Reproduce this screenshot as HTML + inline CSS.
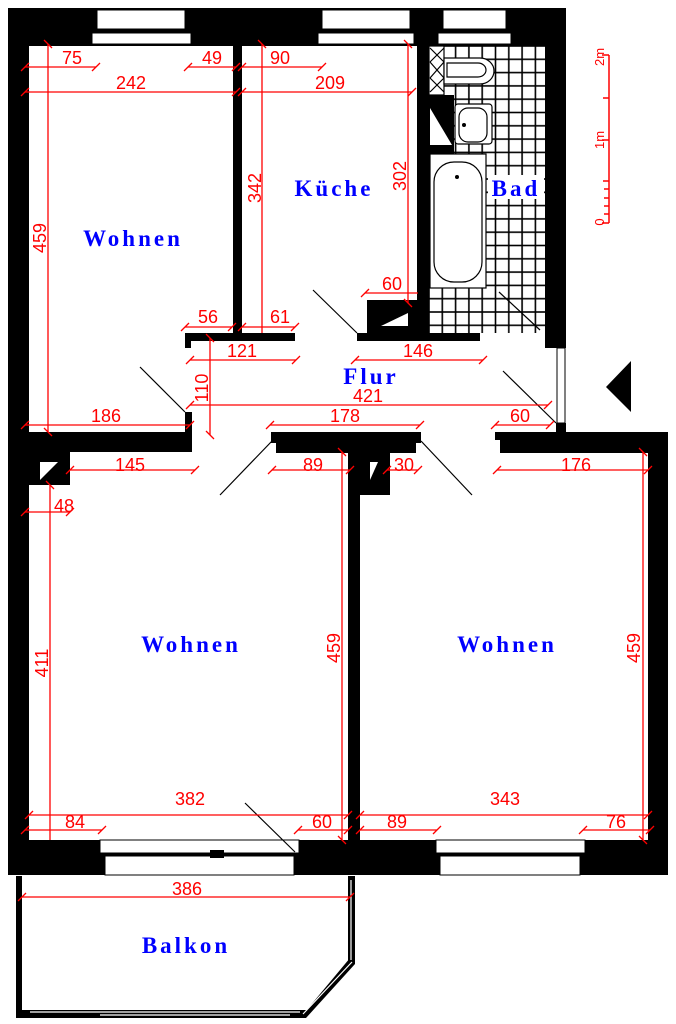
<!DOCTYPE html>
<html><head><meta charset="utf-8"><style>
html,body{margin:0;padding:0;background:#fff;}
svg{display:block;}
.d{stroke:#f00;stroke-width:1.3;fill:none;}
.t{fill:#f00;font-family:"Liberation Sans",sans-serif;font-size:18px;text-anchor:middle;}
.b{fill:#00f;font-family:"Liberation Serif",serif;font-size:23px;text-anchor:middle;letter-spacing:3px;font-weight:bold;}
.k{stroke:#000;stroke-width:1.2;fill:none;}
</style></head><body>
<svg width="676" height="1024" viewBox="0 0 676 1024" xmlns="http://www.w3.org/2000/svg">
<defs>
<pattern id="tile" x="429" y="46" width="13.3" height="13.3" patternUnits="userSpaceOnUse">
<rect width="13.3" height="13.3" fill="#fff" stroke="#000" stroke-width="1.6"/>
</pattern>
</defs>
<rect width="676" height="1024" fill="#fff"/>
<rect x="429" y="46" width="118" height="287" fill="url(#tile)"/>
<g fill="#000">
<rect x="8" y="8" width="558" height="38"/>
<rect x="8" y="8" width="21" height="867"/>
<rect x="545" y="8" width="21" height="340"/>
<rect x="233" y="44" width="9" height="292"/>
<rect x="417" y="44" width="12" height="290"/>
<rect x="185" y="333" width="110" height="8"/>
<rect x="185" y="333" width="6" height="15"/>
<rect x="357" y="333" width="123" height="8"/>
<rect x="367" y="300" width="51" height="34"/>
<rect x="429" y="95" width="25" height="60"/>
<rect x="556" y="423" width="10" height="12"/>
<rect x="185" y="412" width="7" height="30"/>
<rect x="8" y="432" width="184" height="8"/>
<rect x="8" y="440" width="184" height="12"/>
<rect x="271" y="432" width="150" height="11"/>
<rect x="276" y="443" width="140" height="10"/>
<rect x="495" y="432" width="173" height="8"/>
<rect x="500" y="440" width="168" height="13"/>
<rect x="29" y="452" width="41" height="33"/>
<rect x="348" y="452" width="12" height="390"/>
<rect x="360" y="452" width="30" height="43"/>
<rect x="648" y="432" width="20" height="443"/>
<rect x="8" y="840" width="660" height="35"/>
</g>
<polygon points="40,462 58,462 40,480" fill="#fff"/>
<polygon points="370,462 378,462 370,480" fill="#fff"/>
<polygon points="381,326 408,313 408,326" fill="#fff"/>
<polygon points="430,108 430,145 452,145" fill="#fff"/>
<g fill="#fff" stroke="#000" stroke-width="1">
<rect x="97" y="10" width="88" height="19"/>
<rect x="92" y="33" width="99" height="11"/>
<rect x="322" y="10" width="88" height="19"/>
<rect x="318" y="33" width="96" height="11"/>
<rect x="443" y="10" width="63" height="19"/>
<rect x="438" y="33" width="73" height="11"/>
<rect x="100" y="840" width="199" height="13"/>
<rect x="105" y="856" width="189" height="19"/>
<rect x="436" y="840" width="149" height="13"/>
<rect x="440" y="856" width="140" height="19"/>
<rect x="557" y="348" width="8" height="75"/>
</g>
<rect x="210" y="850" width="14" height="8" fill="#000"/>
<g fill="#fff" stroke="#000" stroke-width="1.2">
<rect x="429" y="46" width="15" height="49"/>
<path d="M444,58 H480 A14,13 0 0 1 480,84 H444 Z"/>
<path d="M447,63 H478 A8,7 0 0 1 478,77 H447 Z"/>
<rect x="455" y="104" width="37" height="40" rx="3"/>
<rect x="459" y="108" width="28" height="34" rx="9"/>
<rect x="430" y="154" width="56" height="134"/>
<rect x="434" y="162" width="48" height="120" rx="20"/>
</g>
<path d="M430,48 L444,62 M444,48 L430,62 M430,62 L444,78 M444,62 L430,78 M430,78 L444,92 M444,78 L430,92" class="k" stroke-width="1"/>
<circle cx="464" cy="125" r="2" fill="#000"/>
<circle cx="457" cy="177" r="2" fill="#000"/>
<rect x="488" y="175" width="56" height="24" fill="#fff"/>
<g fill="#000">
<rect x="16" y="876" width="6" height="142"/>
<rect x="16" y="1010" width="290" height="8"/>
<rect x="348" y="876" width="7" height="88"/>
<polygon points="300,1018 306,1018 355,964 350,958"/>
</g>
<path d="M30,1012 H300 M100,1015 H290 M351,880 V960 M352,962 L303,1014" stroke="#fff" stroke-width="1.2"/>
<g class="k">
<line x1="313" y1="290" x2="357" y2="333"/>
<line x1="140" y1="367" x2="185" y2="412"/>
<line x1="503" y1="371" x2="556" y2="423"/>
<line x1="499" y1="292" x2="540" y2="330"/>
<line x1="272" y1="441" x2="220" y2="495"/>
<line x1="421" y1="441" x2="472" y2="495"/>
<line x1="245" y1="803" x2="295" y2="852"/>
</g>
<polygon points="631,361 631,412 606,387" fill="#000"/>
<g class="d">
<path d="M25,67 H96 M188,67 H236 M242,67 H322 M25,92 H236 M242,92 H412"/>
<path d="M48,44 V432 M262,44 V333 M408,44 V303"/>
<path d="M365,293 H418 M185,327 H232 M242,327 H295 M190,360 H296 M355,360 H483"/>
<path d="M210,338 V435 M190,405 H548 M25,425 H190 M270,425 H420 M495,425 H550"/>
<path d="M70,470 H195 M272,470 H350 M387,470 H418 M497,470 H648 M25,512 H70"/>
<path d="M50,485 V840 M342,452 V840 M643,452 V840"/>
<path d="M29,815 H348 M360,815 H648 M25,830 H102 M298,830 H348 M360,830 H437 M583,830 H650 M22,897 H350"/>
<path d="M21,71 l8,-8 M92,71 l8,-8 M184,71 l8,-8 M232,71 l8,-8 M238,71 l8,-8 M318,71 l8,-8 M21,96 l8,-8 M232,96 l8,-8 M238,96 l8,-8 M408,96 l8,-8"/>
<path d="M44,40 l8,8 M44,428 l8,8 M258,40 l8,8 M404,40 l8,8 M404,299 l8,8 M361,297 l8,-8 M181,331 l8,-8 M228,331 l8,-8 M238,331 l8,-8 M291,331 l8,-8"/>
<path d="M186,364 l8,-8 M292,364 l8,-8 M351,364 l8,-8 M479,364 l8,-8 M206,334 l8,8 M206,431 l8,8 M186,409 l8,-8 M544,409 l8,-8"/>
<path d="M21,429 l8,-8 M186,429 l8,-8 M266,429 l8,-8 M416,429 l8,-8 M491,429 l8,-8 M546,429 l8,-8"/>
<path d="M66,474 l8,-8 M191,474 l8,-8 M268,474 l8,-8 M346,474 l8,-8 M383,474 l8,-8 M414,474 l8,-8 M493,474 l8,-8 M644,474 l8,-8 M21,516 l8,-8 M66,516 l8,-8"/>
<path d="M338,448 l8,8 M639,448 l8,8 M338,836 l8,8 M639,836 l8,8 M46,481 l8,8"/>
<path d="M25,819 l8,-8 M344,819 l8,-8 M356,819 l8,-8 M644,819 l8,-8 M21,834 l8,-8 M98,834 l8,-8 M294,834 l8,-8 M344,834 l8,-8 M356,834 l8,-8 M433,834 l8,-8 M579,834 l8,-8 M646,834 l8,-8 M18,901 l8,-8 M346,901 l8,-8"/>
<path d="M609,55 V223 M602,55 H609 M603,98 H609 M602,140 H609 M603,181 H609 M604,189 H609 M604,198 H609 M604,206 H609 M604,214 H609 M602,223 H609" stroke-width="1.5"/>
</g>
<g class="t">
<text x="72" y="64">75</text>
<text x="212" y="64">49</text>
<text x="280" y="64">90</text>
<text x="131" y="89">242</text>
<text x="330" y="89">209</text>
<text x="392" y="290">60</text>
<text x="208" y="323">56</text>
<text x="280" y="323">61</text>
<text x="242" y="357">121</text>
<text x="418" y="357">146</text>
<text x="368" y="402">421</text>
<text x="106" y="422">186</text>
<text x="345" y="422">178</text>
<text x="520" y="422">60</text>
<text x="130" y="471">145</text>
<text x="313" y="471">89</text>
<text x="404" y="471">30</text>
<text x="576" y="471">176</text>
<text x="64" y="512">48</text>
<text x="190" y="805">382</text>
<text x="505" y="805">343</text>
<text x="75" y="828">84</text>
<text x="322" y="828">60</text>
<text x="397" y="828">89</text>
<text x="616" y="828">76</text>
<text x="187" y="895">386</text>
<text transform="translate(46,238) rotate(-90)">459</text>
<text transform="translate(261,188) rotate(-90)">342</text>
<text transform="translate(406,176) rotate(-90)">302</text>
<text transform="translate(208,388) rotate(-90)">110</text>
<text transform="translate(48,663) rotate(-90)">411</text>
<text transform="translate(340,648) rotate(-90)">459</text>
<text transform="translate(640,648) rotate(-90)">459</text>
<text transform="translate(604,57) rotate(-90)" style="font-size:13px">2m</text>
<text transform="translate(604,140) rotate(-90)" style="font-size:13px">1m</text>
<text transform="translate(604,222) rotate(-90)" style="font-size:13px">0</text>
</g>
<g class="b">
<text x="133" y="246">Wohnen</text>
<text x="334" y="196">Küche</text>
<text x="516" y="196">Bad</text>
<text x="371" y="384">Flur</text>
<text x="191" y="652">Wohnen</text>
<text x="507" y="652">Wohnen</text>
<text x="186" y="953">Balkon</text>
</g>
</svg>
</body></html>
